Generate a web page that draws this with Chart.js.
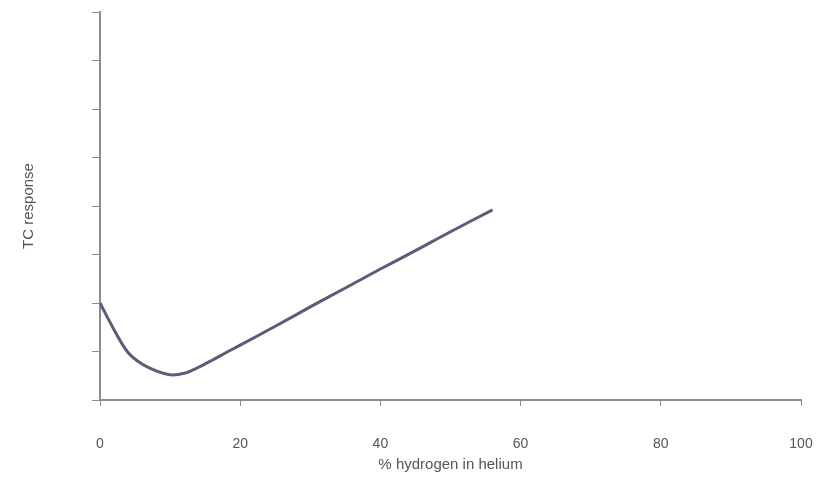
<!DOCTYPE html>
<html lang="en">
<head>
    <meta charset="UTF-8">
    <title>TC response</title>
    <script src="https://cdn.jsdelivr.net/npm/chart.js@4.4.1/dist/chart.umd.min.js"></script>
    <style>
        body {
    margin: 0;
    background-color: #ffffff;
}
#wrap {
    width: 820px;
    height: 485px;
}
    </style>
</head>
<body>
    <div id="wrap"><canvas id="tcChart"></canvas></div>

    <script>
// % hydrogen in helium vs TC response (arbitrary units, y axis unlabeled)
const hydrogenPct = [0, 2, 4, 6, 8, 10, 12, 14, 16, 18, 20, 25, 30, 35, 40, 45, 50, 56];
const tcResponse = [2.0, 1.45, 0.98, 0.74, 0.6, 0.52, 0.55, 0.67, 0.82, 0.98, 1.13, 1.52, 1.92, 2.31, 2.7, 3.08, 3.47, 3.92];
const xTicks = [0, 20, 40, 60, 80, 100];

const axisGray = '#8c8c8c';
const textGray = '#555555';

const points = hydrogenPct.map((x, i) => ({ x: x, y: tcResponse[i] }));

new Chart(document.getElementById('tcChart'), {
    type: 'line',
    data: {
        datasets: [{
            data: points,
            borderColor: '#625878',
            borderWidth: 3,
            pointRadius: 0,
            fill: false,
            tension: 0.35
        }]
    },
    options: {
        responsive: true,
        maintainAspectRatio: false,
        animation: false,
        layout: { padding: { top: 12, right: 0, bottom: 0, left: 0 } },
        plugins: { legend: { display: false }, tooltip: { enabled: false } },
        scales: {
            x: {
                type: 'linear',
                min: 0,
                max: 100,
                afterBuildTicks: (scale) => { scale.ticks = xTicks.map(v => ({ value: v })); },
                afterFit: (scale) => { scale.height = 85; scale.paddingRight = 19; scale.paddingLeft = 0; },
                grid: { drawOnChartArea: false, drawTicks: true, tickLength: 6, tickWidth: 1, color: axisGray },
                border: { display: true, color: axisGray, width: 2 },
                ticks: { color: textGray, padding: 30, maxRotation: 0, font: { family: 'Liberation Sans, Arial', size: 14 } },
                title: {
                    display: true,
                    text: '% hydrogen in helium',
                    color: textGray,
                    font: { family: 'Liberation Sans, Arial', size: 15 },
                    padding: { top: 0, bottom: 11 }
                }
            },
            y: {
                min: 0,
                max: 8,
                afterFit: (scale) => { scale.width = 100; scale.paddingTop = 0; scale.paddingBottom = 0; },
                grid: { drawOnChartArea: false, drawTicks: true, tickLength: 8, tickWidth: 1, color: axisGray },
                border: { display: true, color: axisGray, width: 2 },
                ticks: { stepSize: 1, display: false },
                title: {
                    display: true,
                    text: 'TC response',
                    color: textGray,
                    font: { family: 'Liberation Sans, Arial', size: 15 },
                    padding: { top: 20, bottom: 0 }
                }
            }
        }
    }
});
    </script>
</body>
</html>
